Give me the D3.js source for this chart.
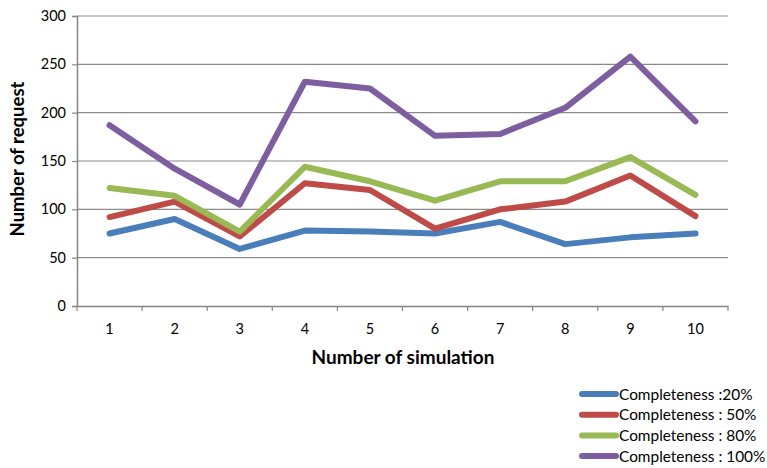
<!DOCTYPE html>
<html><head><meta charset="utf-8">
<script src="https://cdn.jsdelivr.net/npm/d3@7"></script>
<style>body{margin:0;background:#fff}svg{display:block}text{font-family:Lato,"Open Sans",sans-serif;fill:#000}</style>
</head><body><svg id="c" width="767" height="468"></svg>
<script>
const categories = ["1","2","3","4","5","6","7","8","9","10"];
const seriesNames = ["Completeness :20%","Completeness : 50%","Completeness : 80%","Completeness : 100%"];
const s20  = [75, 90, 59, 78, 77, 75, 87, 64, 71, 75];
const s50  = [92, 108, 72, 127, 120, 80, 100, 108, 135, 93];
const s80  = [122, 114, 77, 144, 129, 109, 129, 129, 154, 115];
const s100 = [187, 142, 105, 232, 225, 176, 178, 205, 258, 191];
const yTicks = [0, 50, 100, 150, 200, 250, 300];
const colors = ["#4a7ebb", "#be4b48", "#98b954", "#7d5fa0"];
const series = [s20, s50, s80, s100];

const svg = d3.select("#c");
const L = 77, R = 728, T = 16, B = 306;
const x = d3.scaleBand().domain(categories).range([L, R]);
const y = d3.scaleLinear().domain([0, 300]).range([B, T]);

// gridlines
svg.append("g").selectAll("line").data(yTicks.filter(d => d > 0)).join("line")
  .attr("x1", L).attr("x2", R).attr("y1", d => y(d)).attr("y2", d => y(d))
  .attr("stroke", "#8a8a8a").attr("stroke-width", 1.2);

// y axis
const ya = svg.append("g").attr("transform", `translate(${L},0)`)
  .call(d3.axisLeft(y).tickValues(yTicks).tickSize(5).tickPadding(6));
ya.select(".domain").attr("stroke", "#868686").attr("stroke-width", 1.5);
ya.selectAll(".tick line").attr("stroke", "#868686").attr("stroke-width", 1.2);
ya.selectAll("text").attr("font-size", 14.5).attr("font-family", "Lato");

// x axis
const xa = svg.append("g").attr("transform", `translate(0,${B})`)
  .call(d3.axisBottom(x).tickSize(0).tickPadding(18));
xa.select(".domain").attr("stroke", "#868686").attr("stroke-width", 1.5);
xa.selectAll("text").attr("font-size", 14.5).attr("font-family", "Lato");
// boundary ticks
const bounds = categories.map(c => x(c)).concat([R]);
xa.append("g").selectAll("line").data(bounds).join("line")
  .attr("x1", d => d).attr("x2", d => d).attr("y1", 0).attr("y2", 5)
  .attr("stroke", "#868686").attr("stroke-width", 1.2);

// lines
const line = d3.line().x((d, i) => x(categories[i]) + x.bandwidth() / 2).y(d => y(d));
series.forEach((s, k) => {
  svg.append("path").datum(s).attr("d", line).attr("fill", "none")
    .attr("stroke", colors[k]).attr("stroke-width", 6)
    .attr("stroke-linejoin", "round").attr("stroke-linecap", "round");
});

// axis titles
svg.append("text").attr("x", 403).attr("y", 364).attr("text-anchor", "middle")
  .attr("font-size", 19).attr("font-weight", "bold").text("Number of simulation");
svg.append("text").attr("transform", "translate(24,159) rotate(-90)").attr("text-anchor", "middle")
  .attr("font-size", 18.5).attr("font-weight", "bold").text("Number of request");

// legend
const lg = svg.append("g");
seriesNames.forEach((n, k) => {
  const yy = 394 + k * 20.7;
  lg.append("line").attr("x1", 582).attr("x2", 616).attr("y1", yy).attr("y2", yy)
    .attr("stroke", colors[k]).attr("stroke-width", 6).attr("stroke-linecap", "round");
  lg.append("text").attr("x", 619).attr("y", yy + 5.5).attr("font-size", 15.4).text(n);
});
</script></body></html>
